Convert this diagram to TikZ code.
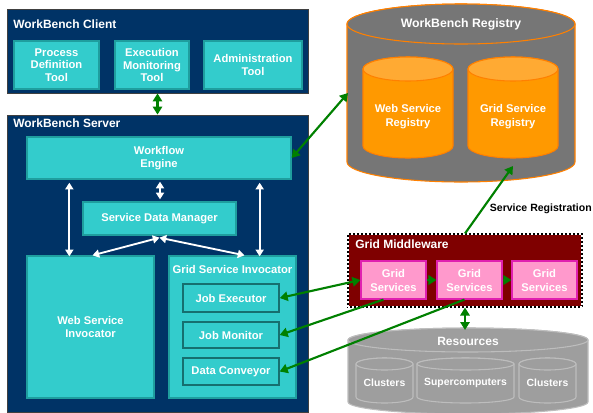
\documentclass[tikz,border=0pt]{standalone}
\usepackage{fontspec}
\setmainfont{Liberation Sans}
\usetikzlibrary{arrows.meta,positioning,calc}
\definecolor{navy}{HTML}{003366}
\definecolor{boxteal}{HTML}{33CCCC}
\definecolor{tealedge}{HTML}{1F9E9E}
\definecolor{regorange}{HTML}{FF9900}
\definecolor{regtop}{HTML}{FFAA33}
\definecolor{regedge}{HTML}{FF8000}
\definecolor{reggray}{HTML}{767676}
\definecolor{midred}{HTML}{7F0000}
\definecolor{gspink}{HTML}{FF99CC}
\definecolor{gsedge}{HTML}{E020B0}
\definecolor{resgray}{HTML}{9E9E9E}
\definecolor{resedge}{HTML}{BDBDBD}
\definecolor{linkgreen}{HTML}{008000}

\tikzset{
  boxsize/.style 2 args={minimum width=#1*0.75pt, minimum height=#2*0.75pt},
  panel/.style={fill=navy, draw=black!75, line width=0.6pt, inner sep=0pt},
  toolbox/.style={fill=boxteal, draw=tealedge, line width=1pt, inner sep=0pt,
    text=white, align=center, font=\bfseries\fontsize{8.4}{9.6}\selectfont},
  subbox/.style={toolbox, draw=tealedge!70!black},
  paneltitle/.style={anchor=west, inner sep=0pt, text=white,
    font=\bfseries\fontsize{9}{10}\selectfont},
  gridsvc/.style={fill=gspink, draw=gsedge, line width=0.8pt, inner sep=0pt,
    text=white, align=center, font=\bfseries\fontsize{8.4}{10.5}\selectfont},
  middleware/.style={fill=midred, draw=black, line width=0.8pt, inner sep=0pt,
    postaction={draw=white, line width=0.8pt, dash pattern=on 1.5pt off 1.5pt}},
  link/.style={draw=linkgreen, line width=1.6pt, -{Triangle[length=6pt,width=7pt]}},
  twolink/.style={draw=linkgreen, line width=1.6pt,
    {Triangle[length=6pt,width=7pt]}-{Triangle[length=6pt,width=7pt]}},
  flow/.style={draw=white, line width=1.4pt,
    {Triangle[length=5pt,width=6pt]}-{Triangle[length=5pt,width=6pt]}},
  cyltext/.style={text=white, align=center, font=\bfseries\fontsize{8.4}{10.5}\selectfont},
}

% cx, rx, y top, y bottom, ry, body fill, top fill, edge
\newcommand{\drawcyl}[8]{%
  \filldraw[fill=#6, draw=#8, line width=0.8pt]
    (#1-#2,#3) -- (#1-#2,#4) arc[start angle=180, end angle=0, x radius=#2, y radius=#5]
    -- (#1+#2,#3) arc[start angle=0, end angle=-180, x radius=#2, y radius=#5] -- cycle;
  \filldraw[fill=#7, draw=#8, line width=0.8pt] (#1,#3) ellipse[x radius=#2, y radius=#5];
}

\begin{document}
\begin{tikzpicture}[x=0.75pt, y=-0.75pt]
\useasboundingbox (0,0) rectangle (593,412);

% WorkBench client
\node[panel, boxsize={301}{84}] (client) at (157.5,51) {};
\node[paneltitle] (clienttitle) at (13,24) {WorkBench Client};
\node[toolbox, boxsize={85}{48}] (pdt) at (56.5,65) {Process\\Definition\\Tool};
\node[toolbox, boxsize={74}{48}] (emt) at (152,65) {Execution\\Monitoring\\Tool};
\node[toolbox, boxsize={98}{48}] (admin) at (253,65) {Administration\\Tool};

% WorkBench server
\node[panel, boxsize={301}{297}] (server) at (157.5,263.5) {};
\node[paneltitle] (servertitle) at (13,123) {WorkBench Server};
\node[toolbox, boxsize={264}{42}] (we) at (159,158) {Workflow\\Engine};
\node[toolbox, boxsize={153}{33}] (sdm) at (159.5,218.5) {Service Data Manager};
\node[toolbox, boxsize={127}{142}] (wsi) at (90.5,327) {Web Service\\Invocator};
\node[toolbox, boxsize={127}{142}] (gsi) at (232.5,327) {};
\node[toolbox, draw=none, fill=none] (gsititle) at (232.5,269) {Grid Service Invocator};
\node[subbox, boxsize={96}{28}] (je) at (231,298) {Job Executor};
\node[subbox, boxsize={96}{26}] (jm) at (231,335) {Job Monitor};
\node[subbox, boxsize={96}{27}] (dc) at (231,371.5) {Data Conveyor};

\draw[flow] ($(we.south west)+(43,3)$) -- ($(wsi.north west)+(43,1)$);
\draw[flow] ($(we.south east)+(-32,3)$) -- ($(gsi.north east)+(-37,1)$);
\draw[flow] ($(we.south)+(1,2)$) -- ($(sdm.north)+(0.5,-2)$);
\draw[flow] ($(sdm.south)+(0,2)$) -- ($(wsi.north)+(2,0)$);
\draw[flow] ($(sdm.south)+(0,2)$) -- ($(gsi.north)+(12,0)$);

% WorkBench registry
\drawcyl{461}{114}{24}{162}{20}{reggray}{reggray}{regedge}
\node[cyltext, font=\bfseries\fontsize{9.2}{10}\selectfont] (reg) at (461,24) {WorkBench Registry};
\drawcyl{408}{45}{69}{146}{12}{regorange}{regtop}{regedge}
\drawcyl{513}{45}{69}{146}{12}{regorange}{regtop}{regedge}
\node[cyltext] (wsr) at (408,117) {Web Service\\Registry};
\node[cyltext] (gsr) at (513,117) {Grid Service\\Registry};
\coordinate (regwest) at (348,93);
\coordinate (gsrfoot) at (513,166);

% Grid middleware
\node[middleware, boxsize={234}{73}] (gm) at (465,270.5) {};
\node[paneltitle] (gmtitle) at (355,244) {Grid Middleware};
\node[gridsvc, boxsize={65}{38}] (gs1) at (393.5,280) {Grid\\Services};
\node[gridsvc, boxsize={65}{38}] (gs2) at (469.5,280) {Grid\\Services};
\node[gridsvc, boxsize={65}{38}] (gs3) at (544.5,280) {Grid\\Services};
\node[anchor=east, inner sep=0pt, font=\bfseries\fontsize{7.9}{9}\selectfont]
  (svcreg) at (592,209) {Service Registration};

% Resources
\drawcyl{468}{120}{340}{402}{12}{resgray}{resgray}{resedge}
\node[cyltext, font=\bfseries\fontsize{9}{10}\selectfont] (res) at (468,341) {Resources};
\drawcyl{384.5}{28.5}{364}{397}{6}{resgray}{resgray}{resedge}
\drawcyl{465.5}{48.5}{364}{397}{6}{resgray}{resgray}{resedge}
\drawcyl{547.5}{28.5}{364}{397}{6}{resgray}{resgray}{resedge}
\node[cyltext, font=\bfseries\fontsize{7.8}{9}\selectfont] (cl1) at (384.5,383) {Clusters};
\node[cyltext, font=\bfseries\fontsize{7.8}{9}\selectfont] (sc) at (465.5,383) {Supercomputers};
\node[cyltext, font=\bfseries\fontsize{7.8}{9}\selectfont] (cl2) at (547.5,383) {Clusters};
\coordinate (restop) at (465,330);

% connectors
\draw[twolink] (client.south) -- (server.north);
\draw[twolink] (we.east) -- (regwest);
\draw[link] (gm.north) -- (gsrfoot);
\draw[link] (gs1) -- (gs2);
\draw[link] (gs2) -- (gs3);
\draw[twolink] (je.east) -- (gs1.west);
\draw[link] ($(gs1.south)+(-10,0)$) -- (jm.east);
\draw[link] ($(gs2.south)+(-5,0)$) -- (dc.east);
\draw[twolink] (gm.south) -- (restop);
\end{tikzpicture}
\end{document}
